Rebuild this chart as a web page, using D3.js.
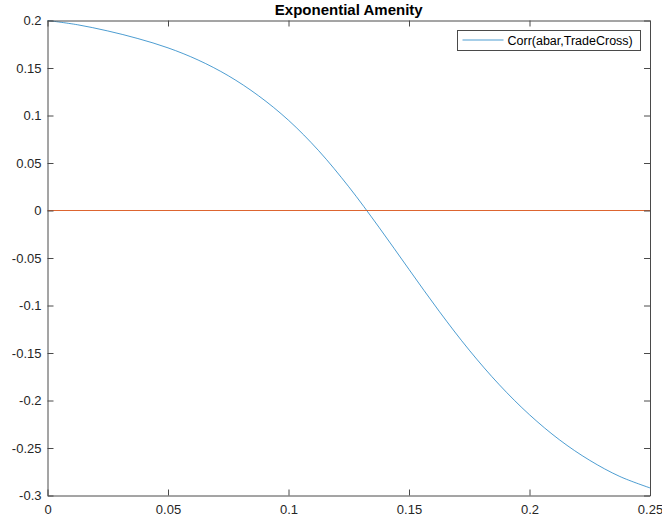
<!DOCTYPE html>
<html>
<head>
<meta charset="utf-8">
<script src="https://cdn.jsdelivr.net/npm/d3@7"></script>
<style>
  html, body { margin: 0; padding: 0; background: #fff; }
  svg { display: block; font-family: "Liberation Sans", Arial, Helvetica, sans-serif; }
</style>
</head>
<body>
<svg id="chart" width="662" height="521"></svg>
<script>
// Correlation of abar with TradeCross across the parameter grid
const xValues = [0, 0.0125, 0.025, 0.0375, 0.05, 0.0625, 0.075, 0.0875, 0.1, 0.1125,
                 0.125, 0.1375, 0.15, 0.1625, 0.175, 0.1875, 0.2, 0.2125, 0.225, 0.2375, 0.25];
const corrValues = [0.2000, 0.1955, 0.1890, 0.1810, 0.1712, 0.1584, 0.1419, 0.1209, 0.0950, 0.0630,
                    0.0250, -0.0175, -0.0620, -0.1060, -0.1470, -0.1835, -0.2150, -0.2415, -0.2630, -0.2800, -0.2920];
const zeroLine = [0, 0];
const xTicks = [0, 0.05, 0.1, 0.15, 0.2, 0.25];
const yTicks = [0.2, 0.15, 0.1, 0.05, 0, -0.05, -0.1, -0.15, -0.2, -0.25, -0.3];
const titleText = "Exponential Amenity";
const legendLabel = "Corr(abar,TradeCross)";

const W = 662, H = 521;
const margin = { left: 47.5, right: 12, top: 20.5, bottom: 25.5 };
const svg = d3.select("#chart");

const x = d3.scaleLinear().domain([0, 0.25]).range([margin.left, W - margin.right]);
const y = d3.scaleLinear().domain([-0.3, 0.2]).range([H - margin.bottom, margin.top]);

const fmt = d => String(+d.toFixed(3));
const axisColor = "#4a4a4a";
const textColor = "#262626";

// Plot background
svg.append("rect")
  .attr("x", x(0)).attr("y", y(0.2))
  .attr("width", x(0.25) - x(0)).attr("height", y(-0.3) - y(0.2))
  .attr("fill", "#fff");

// Series
const line = d3.line().x(d => x(d[0])).y(d => y(d[1])).curve(d3.curveCatmullRom);
svg.append("path")
  .datum(xValues.map((v, i) => [v, corrValues[i]]))
  .attr("d", line)
  .attr("fill", "none")
  .attr("stroke", "#0072BD")
  .attr("stroke-width", 0.7);

svg.append("path")
  .datum([[0, zeroLine[0]], [0.25, zeroLine[1]]])
  .attr("d", d3.line().x(d => x(d[0])).y(d => y(d[1])))
  .attr("fill", "none")
  .attr("stroke", "#D95319")
  .attr("stroke-width", 0.9);

// Axes with inward ticks on all four sides
function styleAxis(g) {
  g.select(".domain").attr("stroke", axisColor).attr("stroke-width", 1);
  g.selectAll(".tick line").attr("stroke", axisColor).attr("stroke-width", 1);
  g.selectAll(".tick text").attr("fill", textColor).attr("font-size", "13px");
}

svg.append("g")
  .attr("transform", `translate(0,${y(-0.3)})`)
  .call(d3.axisBottom(x).tickValues(xTicks).tickFormat(fmt).tickSize(-6).tickSizeOuter(0).tickPadding(9))
  .call(styleAxis);

svg.append("g")
  .attr("transform", `translate(0,${y(0.2)})`)
  .call(d3.axisTop(x).tickValues(xTicks).tickFormat("").tickSize(-6).tickSizeOuter(0))
  .call(styleAxis);

svg.append("g")
  .attr("transform", `translate(${x(0)},0)`)
  .call(d3.axisLeft(y).tickValues(yTicks).tickFormat(fmt).tickSize(-6).tickSizeOuter(0).tickPadding(6))
  .call(styleAxis);

svg.append("g")
  .attr("transform", `translate(${x(0.25)},0)`)
  .call(d3.axisRight(y).tickValues(yTicks).tickFormat("").tickSize(-6).tickSizeOuter(0))
  .call(styleAxis);

svg.selectAll("g text").attr("font-family", "'Liberation Sans', Arial, Helvetica, sans-serif");

// Title
svg.append("text")
  .attr("x", (x(0) + x(0.25)) / 2)
  .attr("y", 15)
  .attr("text-anchor", "middle")
  .attr("font-size", "15px")
  .attr("font-weight", "bold")
  .attr("fill", "#000")
  .text(titleText);

// Legend
const lg = svg.append("g").attr("transform", "translate(457.5,30.5)");
lg.append("rect")
  .attr("width", 183).attr("height", 20)
  .attr("fill", "#fff").attr("stroke", axisColor).attr("stroke-width", 1);
lg.append("line")
  .attr("x1", 5).attr("x2", 46).attr("y1", 9.5).attr("y2", 9.5)
  .attr("stroke", "#0072BD").attr("stroke-width", 0.7);
lg.append("text")
  .attr("x", 50).attr("y", 14)
  .attr("font-size", "12.5px")
  .attr("fill", "#000")
  .text(legendLabel);
</script>
</body>
</html>
